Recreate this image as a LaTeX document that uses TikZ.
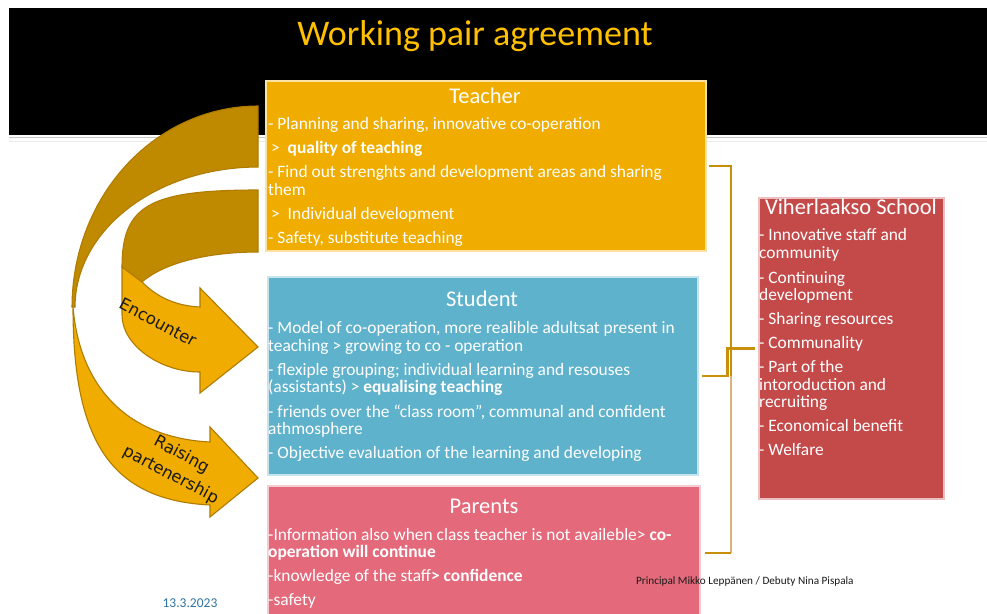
\documentclass[tikz,border=0pt]{standalone}
\usepackage{fontspec}
\setmainfont{Carlito}
\newfontfamily\dvs{DejaVu Sans}
\definecolor{tcol}{HTML}{F0AD00}
\definecolor{scol}{HTML}{5FB2CC}
\definecolor{pcol}{HTML}{E46A7B}
\definecolor{vcol}{HTML}{C44A4A}
\definecolor{titcol}{HTML}{FFC000}
\definecolor{adark}{HTML}{BF8A00}
\definecolor{alight}{HTML}{F0AC00}
\definecolor{aline}{HTML}{B07C00}
\definecolor{conncol}{HTML}{C8900A}
\definecolor{connlt}{HTML}{D6B47E}
\definecolor{datecol}{HTML}{2F73A0}
\begin{document}
\begin{tikzpicture}[x=1pt,y=-1pt,
  box/.style={rectangle, inner sep=0pt, line width=1.5pt, anchor=north west},
  ln/.style={anchor=base west, inner sep=0pt, text=white, font=\fontsize{17.4pt}{20pt}\selectfont},
  hd/.style={anchor=base, inner sep=0pt, text=white, font=\fontsize{22.5pt}{25pt}\selectfont},
  conn/.style={draw=conncol, line width=2.5pt},
  connl/.style={draw=connlt, line width=2.5pt},
  backpart/.style={fill=adark, draw=aline, line width=1.1pt},
  frontpart/.style={fill=alight, draw=aline, line width=1.1pt},
  alabel/.style={inner sep=0pt, text=black!90, font=\dvs\fontsize{16.5pt}{23pt}\selectfont, rotate=-28, align=center}
]
\useasboundingbox (0,0) rectangle (987,613);
\clip (0,0) rectangle (987,613);
\fill[white] (0,0) rectangle (987,613);

% header band
\fill[black] (9,8) rectangle (987,135);
\draw[black!22, line width=1.5pt] (9,137.5) -- (987,137.5);
\draw[black!8, line width=1.5pt] (9,141.5) -- (987,141.5);
\node[anchor=base, inner sep=0pt, text=titcol, font=\fontsize{36pt}{40pt}\selectfont] (title) at (475,45) {Working pair agreement};

% curved arrows
\path[backpart] plot[domain=90:180, samples=40, variable=\t] ({258+186*cos(\t)},{307-201*sin(\t)})
   -- plot[domain=180:90, samples=40, variable=\t] ({258+183*cos(\t)},{307-140*sin(\t)}) -- cycle;
\path[frontpart] (73,307) .. controls (80,390) and (130,438) .. (210,442) -- (210,427) -- (258,478)
   -- (210,517) -- (210,505) .. controls (110,500) and (73,440) .. (73,307) -- cycle;
\path[backpart] (258,190) .. controls (150,190) and (122,205) .. (122,267) -- (142,282)
   .. controls (165,262) and (210,252) .. (258,252) -- cycle;
\path[frontpart] (122,267) -- (142,282) .. controls (160,300) and (180,306) .. (200,307) -- (200,288)
   -- (258,347) -- (200,393) -- (200,372) .. controls (160,372) and (122,345) .. (122,315) -- cycle;
\node[alabel] (enc) at (158,322) {Encounter};
\node[alabel] (rais) at (176,465) {Raising\\partenership};

% boxes
\node[box, fill=tcol, draw=tcol!35!white, minimum width=440pt, minimum height=170pt] (teacher) at (265,80) {};
\node[box, fill=scol, draw=scol!35!white, minimum width=430pt, minimum height=198pt] (student) at (267,276) {};
\node[box, fill=pcol, draw=pcol!35!white, minimum width=432pt, minimum height=134pt] (parents) at (267,485) {};
\node[box, fill=vcol, draw=vcol!35!white, minimum width=185pt, minimum height=301pt] (school) at (758,197) {};

% teacher text
\node[hd] (th) at (485,103) {Teacher};
\node[ln] (t1) at (268,129) {- Planning and sharing, innovative co-operation};
\node[ln] (t2) at (271,153) {>\ \ \textbf{quality of teaching}};
\node[ln] (t3) at (268,177) {- Find out strenghts and development areas and sharing};
\node[ln] (t4) at (268,195) {them};
\node[ln] (t5) at (271,219) {>\ \ Individual development};
\node[ln] (t6) at (268,243) {- Safety, substitute teaching};

% student text
\node[hd] (sh) at (482,306) {Student};
\node[ln] (s1) at (268,333) {- Model of co-operation, more realible adultsat present in};
\node[ln] (s2) at (268,351) {teaching > growing to co - operation};
\node[ln] (s3) at (268,375) {- flexiple grouping; individual learning and resouses};
\node[ln] (s4) at (268,392) {(assistants) > \textbf{equalising teaching}};
\node[ln] (s5) at (268,417) {- friends over the “class room”, communal and confident};
\node[ln] (s6) at (268,434) {athmosphere};
\node[ln] (s7) at (268,458) {- Objective evaluation of the learning and developing};

% parents text
\node[hd] (ph) at (484,513) {Parents};
\node[ln] (p1) at (268,540) {-Information also when class teacher is not availeble> \textbf{co-}};
\node[ln] (p2) at (268,557) {\textbf{operation will continue}};
\node[ln] (p3) at (268,581) {-knowledge of the staff\textbf{> confidence}};
\node[ln] (p4) at (268,605) {-safety};

% school text
\node[hd] (vh) at (851,214) {Viherlaakso School};
\node[ln] (v1) at (759,240) {- Innovative staff and};
\node[ln] (v2) at (759,258) {community};
\node[ln] (v3) at (759,283) {- Continuing};
\node[ln] (v4) at (759,300) {development};
\node[ln] (v5) at (759,324) {- Sharing resources};
\node[ln] (v6) at (759,348) {- Communality};
\node[ln] (v7) at (759,372) {- Part of the};
\node[ln] (v8) at (759,390) {intoroduction and};
\node[ln] (v9) at (759,407) {recruiting};
\node[ln] (v10) at (759,431) {- Economical benefit};
\node[ln] (v11) at (759,455) {- Welfare};

% bracket connectors
\coordinate (bx) at (731,0);
\coordinate (mx) at (727.5,0);
\draw[conn] ([xshift=2pt]teacher.east) -- (teacher.east -| bx) -- (student.east -| bx);
\draw[connl] (student.east -| bx) -- (parents.east -| bx);
\draw[conn] (parents.east -| bx) -- ([xshift=4pt]parents.east);
\draw[conn] ([xshift=3pt]student.east) -- (student.east -| mx) -- (school.west -| mx) -- ([xshift=-3pt]school.west);

% footer
\node[anchor=base, inner sep=0pt, text=datecol, font=\fontsize{13.5pt}{15pt}\selectfont] (date) at (190,607) {13.3.2023};
\node[anchor=base west, inner sep=0pt, text=black!90, font=\fontsize{11.2pt}{13pt}\selectfont] (auth) at (636,584) {Principal Mikko Leppänen / Debuty Nina Pispala};
\end{tikzpicture}
\end{document}
